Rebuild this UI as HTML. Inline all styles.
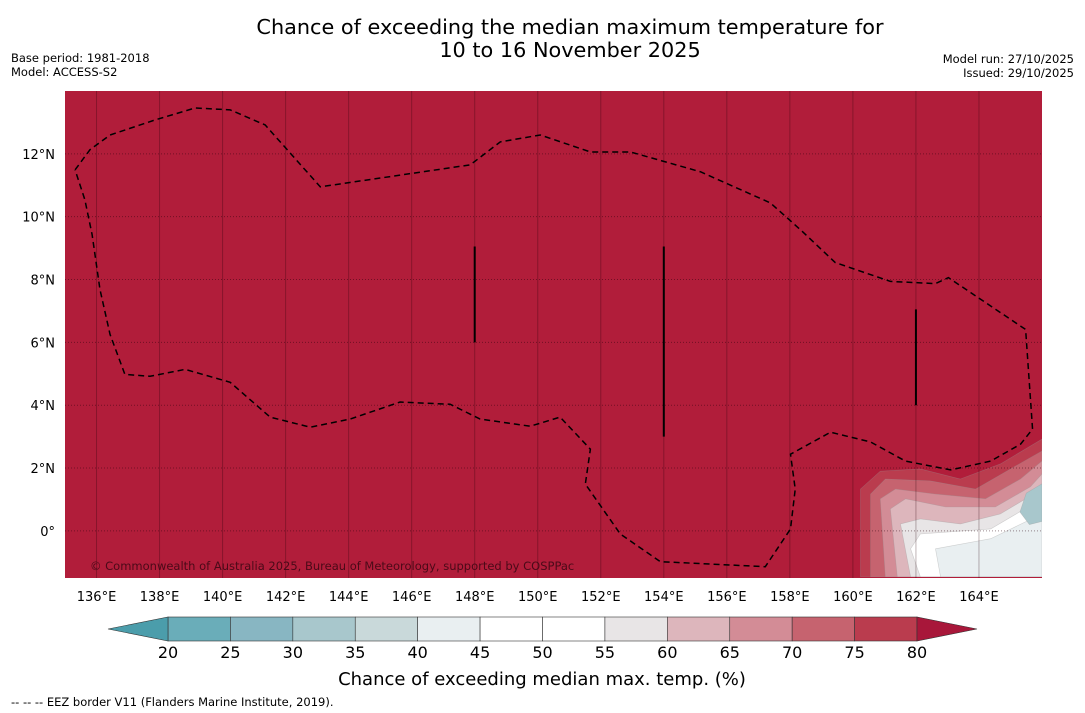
<!DOCTYPE html>
<html><head><meta charset="utf-8"><style>
body{margin:0;background:#fff;font-family:"DejaVu Sans","Liberation Sans",sans-serif}
svg{display:block;font-family:"DejaVu Sans","Liberation Sans",sans-serif}
</style></head><body>
<svg width="1085" height="713" viewBox="0 0 1085 713" id="chart">
<text x="570" y="34" font-size="20.8" text-anchor="middle">Chance of exceeding the median maximum temperature for</text>
<text x="570" y="57" font-size="20.8" text-anchor="middle">10 to 16 November 2025</text>
<text x="11" y="62" font-size="11.5">Base period: 1981-2018</text>
<text x="11" y="76" font-size="11.5">Model: ACCESS-S2</text>
<text x="1074" y="63" font-size="11.5" text-anchor="end">Model run: 27/10/2025</text>
<text x="1074" y="77" font-size="11.5" text-anchor="end">Issued: 29/10/2025</text>
<defs><clipPath id="mapclip"><rect x="65" y="91" width="977" height="487"/></clipPath></defs>
<rect x="65" y="91" width="977" height="487" fill="#b11d3a"/>
<g id="contours" clip-path="url(#mapclip)"></g>
<g id="grid" clip-path="url(#mapclip)"></g>
<g id="eez" clip-path="url(#mapclip)"></g>
<g id="segs"></g>
<text x="90" y="570" font-size="11.5" fill="#4a0a18">© Commonwealth of Australia 2025, Bureau of Meteorology, supported by COSPPac</text>
<g id="ticks"></g>
<g id="cbar"></g>
<text x="542" y="685" font-size="18" text-anchor="middle">Chance of exceeding median max. temp. (%)</text>
<text x="11" y="706" font-size="11.5">--  --  -- EEZ border V11 (Flanders Marine Institute, 2019).</text>
</svg>
<script>
const lonTicks=[136,138,140,142,144,146,148,150,152,154,156,158,160,162,164];
const latTicks=[0,2,4,6,8,10,12];
const cbLevels=[20,25,30,35,40,45,50,55,60,65,70,75,80];
const cbColors=["#6aadb9","#88b6c2","#a8c7cc","#c9d9da","#e9eff1","#ffffff","#ffffff","#e8e5e6","#ddb6bc","#d38c96","#c6636f","#ba3c4e"];
const cbUnder="#4b9dab", cbOver="#a8173a";
const eezLon=[135.32,135.79,136.43,137.86,139.13,140.24,141.35,143.10,147.86,148.81,150.08,151.67,152.94,155.16,157.38,158.33,159.44,161.19,162.62,163.03,165.48,165.70,165.32,164.37,163.10,161.67,160.56,159.29,158.02,158.17,158.02,157.22,153.89,152.62,151.51,151.67,150.71,149.76,148.17,147.22,145.63,144.05,142.78,141.51,140.24,138.81,137.70,136.90,136.43,136.11,135.86,135.63,135.32];
const eezLat=[11.49,12.13,12.60,13.08,13.46,13.40,12.92,10.95,11.65,12.38,12.60,12.06,12.06,11.43,10.44,9.59,8.54,7.94,7.87,8.06,6.41,3.24,2.76,2.22,1.94,2.22,2.83,3.14,2.44,1.33,0.06,-1.14,-0.98,-0.10,1.49,2.60,3.62,3.33,3.56,4.03,4.10,3.56,3.30,3.62,4.73,5.14,4.92,4.98,6.25,7.68,9.43,10.54,11.49];
const segLon=[148,154,162];
const segLat0=[9.05,9.05,7.05];
const segLat1=[6.0,3.0,4.0];
const bandVals=[77,72,67,62,57,52,42,33];
const bandLon=[
 [160.24,160.24,160.87,162.14,163.41,164.68,166,166],
 [160.56,160.56,161.03,162.46,163.89,165.0,166,166],
 [161.03,160.87,161.35,162.62,164.21,165.32,166,166],
 [161.41,161.19,161.67,162.94,164.52,165.63,166,166],
 [161.83,161.51,162.14,163.41,164.68,166,166],
 [162.14,161.83,162.14,164.37,166,166],
 [162.78,162.62,164.37,166,166],
 [165.3,165.5,166,166,165.6]];
const bandLat=[
 [-1.46,1.33,1.90,1.97,1.65,2.13,2.92,-1.46],
 [-1.46,1.17,1.65,1.59,1.33,1.97,2.54,-1.46],
 [-1.46,1.02,1.33,1.17,1.02,1.65,2.22,-1.46],
 [-1.46,0.70,1.02,0.76,0.76,1.40,1.81,-1.46],
 [-1.46,0.22,0.38,0.22,0.54,1.33,-1.46],
 [-1.46,-0.57,-0.10,0.06,1.02,-1.46],
 [-1.46,-0.57,-0.25,0.54,-1.46],
 [0.6,1.2,1.5,0.3,0.2]];
const X=lon=>65+(lon-135)*31.5*(977/976.5);
const Y=lat=>91+(14-lat)*31.5*(487/488.25);
const NS="http://www.w3.org/2000/svg";
function mk(tag,attrs,parent){const e=document.createElementNS(NS,tag);for(const k in attrs)e.setAttribute(k,attrs[k]);parent.appendChild(e);return e;}
function colorFor(v){if(v<cbLevels[0])return cbUnder;if(v>=cbLevels[cbLevels.length-1])return cbOver;for(let i=0;i<cbColors.length;i++)if(v<cbLevels[i+1])return cbColors[i];}
const cg=document.getElementById('contours');
bandVals.forEach((v,i)=>{const pts=bandLon[i].map((lo,j)=>X(lo)+','+Y(bandLat[i][j])).join(' ');
 const p=mk('polygon',{points:pts,fill:colorFor(v),stroke:'rgba(150,150,150,0.4)','stroke-width':0.6,'stroke-linejoin':'round'},cg);
 
 });
const gg=document.getElementById('grid');
lonTicks.forEach(l=>{const e=mk('line',{x1:X(l),x2:X(l),y1:91,y2:578,stroke:'rgba(40,0,10,0.3)','stroke-width':1},gg);
 
 });
latTicks.forEach(l=>{const e=mk('line',{x1:65,x2:1042,y1:Y(l),y2:Y(l),stroke:'rgba(40,0,10,0.45)','stroke-width':1,'stroke-dasharray':'1,2'},gg);
 
 });
const eg=document.getElementById('eez');
const ep=mk('polyline',{points:eezLon.map((lo,j)=>X(lo)+','+Y(eezLat[j])).join(' '),fill:'none',stroke:'#000','stroke-width':1.5,'stroke-dasharray':'6,4'},eg);


const sg=document.getElementById('segs');
segLon.forEach((l,i)=>{const e=mk('line',{x1:X(l),x2:X(l),y1:Y(segLat0[i]),y2:Y(segLat1[i]),stroke:'#000','stroke-width':2},sg);
 
 });
const tg=document.getElementById('ticks');
lonTicks.forEach(l=>{const t=mk('text',{x:X(l),y:601,'font-size':13,'text-anchor':'middle'},tg);t.textContent=l+'°E';
 
 });
latTicks.forEach(l=>{const t=mk('text',{x:55,y:Y(l)+5,'font-size':13,'text-anchor':'end'},tg);t.textContent=l===0?'0°':l+'°N';
 
 });
const cb=document.getElementById('cbar');
const cx0=168,cx1=917,cy=617,ch=24,bw=(cx1-cx0)/cbColors.length;
cbColors.forEach((c,i)=>{const r=mk('rect',{x:cx0+i*bw,y:cy,width:bw,height:ch,fill:c,stroke:'#333','stroke-width':0.6},cb);
 
 });
const lt=mk('polygon',{points:`108,${cy+ch/2} ${cx0},${cy} ${cx0},${cy+ch}`,fill:cbUnder,stroke:'#333','stroke-width':0.6},cb);


const rt=mk('polygon',{points:`977,${cy+ch/2} ${cx1},${cy} ${cx1},${cy+ch}`,fill:cbOver,stroke:'#333','stroke-width':0.6},cb);


cbLevels.forEach((v,i)=>{const t=mk('text',{x:cx0+i*bw,y:658,'font-size':16,'text-anchor':'middle'},cb);t.textContent=v;
 
 });
</script>
</body></html>
